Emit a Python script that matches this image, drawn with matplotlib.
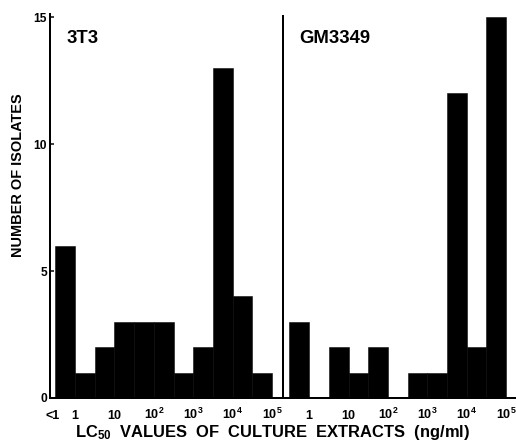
import matplotlib
matplotlib.use('Agg')
import matplotlib.pyplot as plt
import numpy as np

# half-decade bins, left edge given as log10(ng/ml); first bin is the "<1" bin
bin_left = [-0.5, 0.0, 0.5, 1.0, 1.5, 2.0, 2.5, 3.0, 3.5, 4.0, 4.5]
bin_width = 0.5
counts_3t3 = [6, 1, 2, 3, 3, 3, 1, 2, 13, 4, 1]
counts_gm3349 = [3, 0, 2, 1, 2, 0, 1, 1, 12, 2, 15]

ticks_3t3 = [-0.57, 0, 1, 2, 3, 4, 5]
labels_3t3 = ['<1', '1', '10', r'$10^2$', r'$10^3$', r'$10^4$', r'$10^5$']
ticks_gm3349 = [0, 1, 2, 3, 4, 5]
labels_gm3349 = ['1', '10', r'$10^2$', r'$10^3$', r'$10^4$', r'$10^5$']

# second panel is shifted along the same axis
offset_gm = 5.94
divider = 5.28

plt.rcParams['font.family'] = ['Liberation Sans', 'DejaVu Sans']
plt.rcParams['font.weight'] = 'bold'
plt.rcParams['mathtext.fontset'] = 'custom'
plt.rcParams['mathtext.rm'] = 'Liberation Sans:bold'
plt.rcParams['mathtext.bf'] = 'Liberation Sans:bold'
plt.rcParams['mathtext.default'] = 'rm'

fig = plt.figure(figsize=(516/72, 442/72), dpi=72)
ax = fig.add_axes([50/516, 44/442, 466/516, 383.5/442])

ax.bar(bin_left, counts_3t3, width=bin_width, align='edge',
       color='black', edgecolor='black', linewidth=0.5)
ax.bar(np.array(bin_left) + offset_gm, counts_gm3349, width=bin_width,
       align='edge', color='black', edgecolor='black', linewidth=0.5)
ax.axvline(divider, color='black', lw=2)

ax.set_xlim(-0.635, 11.19)
ax.set_ylim(0, 15.1)

for s in ['top', 'right']:
    ax.spines[s].set_visible(False)
ax.spines['left'].set_linewidth(2)
ax.spines['bottom'].set_linewidth(2)

ax.set_yticks([0, 5, 10, 15])
ax.set_yticklabels(['0', '5', '10', '15'], fontsize=12, fontweight='bold')
ax.tick_params(axis='y', direction='in', length=4, width=1.5, pad=3)

xt = ticks_3t3 + [t + offset_gm for t in ticks_gm3349]
ax.set_xticks(xt)
ax.set_xticklabels(labels_3t3 + labels_gm3349, fontsize=12.5,
                   fontweight='bold')
ax.tick_params(axis='x', length=0, pad=21)
for lab in ax.get_xticklabels():
    lab.set_va('baseline')

ax.text(67/516, 1 - 43/442, '3T3', transform=fig.transFigure,
        fontsize=18.5, fontweight='bold', va='baseline')
ax.text(299/516, 1 - 43/442, 'GM3349', transform=fig.transFigure,
        fontsize=18.5, fontweight='bold', va='baseline')

fig.text(273/516, 1 - 432/442,
         r'LC$_{50}$  VALUES  OF  CULTURE  EXTRACTS  (ng/ml)',
         ha='center', va='center', fontsize=16.5, fontweight='bold')
fig.text(18/516, 1 - 175/442, 'NUMBER OF ISOLATES', rotation=90,
         ha='center', va='center', fontsize=14.5, fontweight='bold')

fig.savefig('out.png', dpi=72)
